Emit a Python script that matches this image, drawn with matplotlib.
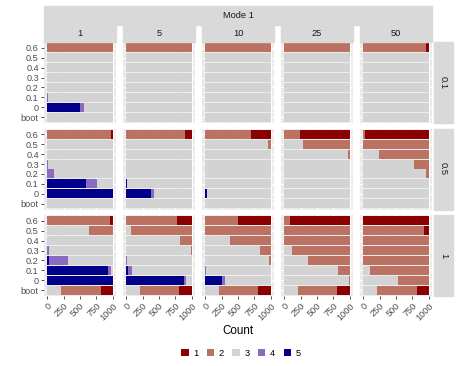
import matplotlib.pyplot as plt
from matplotlib.patches import Rectangle, Patch

plt.rcParams['font.family'] = ['Liberation Sans', 'DejaVu Sans']

# categories, top to bottom as shown
cats = ["0.6", "0.5", "0.4", "0.3", "0.2", "0.1", "0", "boot"]
col_labels = ["1", "5", "10", "25", "50"]
row_labels = ["0.1", "0.5", "1"]
levels = ["1", "2", "3", "4", "5"]
level_colors = ["#8B0000", "#BB7262", "#D3D3D3", "#8B6BBF", "#00008B"]

# counts per facet row: level -> [column][category]
r01_l1 = [[0]*8, [0]*8, [0]*8, [0]*8, [35, 0, 0, 0, 0, 0, 0, 0]]
r01_l2 = [[1000, 0, 0, 0, 0, 0, 0, 0], [1000, 0, 0, 0, 0, 0, 0, 0],
          [1000, 0, 0, 0, 0, 0, 0, 0], [1000, 0, 0, 0, 0, 0, 0, 0],
          [965, 0, 0, 0, 0, 0, 0, 0]]
r01_l3 = [[0, 1000, 1000, 1000, 1000, 985, 440, 1000],
          [0, 1000, 1000, 1000, 1000, 1000, 1000, 1000],
          [0, 1000, 1000, 1000, 1000, 1000, 1000, 1000],
          [0, 1000, 1000, 1000, 1000, 1000, 1000, 1000],
          [0, 1000, 1000, 1000, 1000, 1000, 1000, 1000]]
r01_l4 = [[0, 0, 0, 0, 0, 15, 55, 0], [0]*8, [0]*8, [0]*8, [0]*8]
r01_l5 = [[0, 0, 0, 0, 0, 0, 505, 0], [0]*8, [0]*8, [0]*8, [0]*8]

r05_l1 = [[20, 0, 0, 0, 0, 0, 0, 0], [110, 0, 0, 0, 0, 0, 0, 0],
          [295, 0, 0, 0, 0, 0, 0, 0], [755, 0, 0, 0, 0, 0, 0, 0],
          [970, 0, 0, 0, 0, 0, 0, 0]]
r05_l2 = [[980, 0, 0, 0, 0, 0, 0, 0], [890, 0, 0, 0, 0, 0, 0, 0],
          [705, 40, 0, 0, 0, 0, 0, 0], [245, 720, 30, 0, 0, 0, 0, 0],
          [30, 1000, 758, 232, 35, 0, 0, 0]]
r05_l3 = [[0, 1000, 1000, 995, 895, 240, 0, 1000],
          [0, 1000, 1000, 1000, 1000, 990, 580, 1000],
          [0, 960, 1000, 1000, 1000, 1000, 980, 1000],
          [0, 280, 970, 1000, 1000, 1000, 1000, 1000],
          [0, 0, 242, 768, 965, 1000, 1000, 1000]]
r05_l4 = [[0, 0, 0, 5, 105, 165, 0, 0], [0, 0, 0, 0, 0, 0, 40, 0],
          [0]*8, [0]*8, [0]*8]
r05_l5 = [[0, 0, 0, 0, 0, 595, 1000, 0], [0, 0, 0, 0, 0, 10, 380, 0],
          [0, 0, 0, 0, 0, 0, 20, 0], [0]*8, [0]*8]

r1_l1 = [[40, 0, 0, 0, 0, 0, 0, 185], [227, 0, 0, 0, 0, 0, 0, 187],
         [505, 0, 0, 0, 0, 0, 0, 190], [905, 0, 0, 0, 0, 0, 0, 190],
         [1000, 70, 0, 0, 0, 0, 0, 181]]
r1_l2 = [[960, 370, 0, 0, 0, 0, 0, 600], [773, 934, 177, 15, 0, 0, 0, 606],
         [495, 1000, 625, 170, 25, 0, 0, 600],
         [95, 1000, 1000, 885, 630, 180, 15, 600],
         [0, 930, 1000, 1000, 1000, 900, 475, 612]]
r1_l3 = [[0, 630, 1000, 970, 680, 20, 0, 215],
         [0, 66, 823, 985, 990, 909, 91, 207],
         [0, 0, 375, 830, 975, 995, 700, 210],
         [0, 0, 0, 115, 370, 820, 985, 210],
         [0, 0, 0, 0, 0, 100, 525, 207]]
r1_l4 = [[0, 0, 0, 30, 295, 55, 0, 0], [0, 0, 0, 0, 10, 66, 25, 0],
         [0, 0, 0, 0, 0, 5, 45, 0], [0]*8, [0]*8]
r1_l5 = [[0, 0, 0, 0, 25, 925, 1000, 0], [0, 0, 0, 0, 0, 25, 884, 0],
         [0, 0, 0, 0, 0, 0, 255, 0], [0]*8, [0]*8]

facet_rows = [
    [r01_l1, r01_l2, r01_l3, r01_l4, r01_l5],
    [r05_l1, r05_l2, r05_l3, r05_l4, r05_l5],
    [r1_l1, r1_l2, r1_l3, r1_l4, r1_l5],
]

W, H = 457, 366
fig = plt.figure(figsize=(W / 100, H / 100), dpi=100)

def fx(px):
    return px / W

def fy(py):
    return 1 - py / H

strip_bg = "#D9D9D9"
tick_col = "#4D4D4D"
col_left = [44 + 79 * j for j in range(5)]
pan_w = 72
row_top = [42, 128.5, 215]
pan_h = 81
ypos = [7 - k for k in range(len(cats))]

for i, data in enumerate(facet_rows):
    for j in range(5):
        ax = fig.add_axes([fx(col_left[j]), fy(row_top[i] + pan_h), fx(pan_w), pan_h / H])
        ax.set_facecolor("#EBEBEB")
        left = [0] * len(cats)
        # stacked from level 5 on the left to level 1 on the right
        for lv in range(4, -1, -1):
            vals = data[lv][j]
            ax.barh(ypos, vals, left=left, height=0.9, color=level_colors[lv], linewidth=0)
            left = [a + b for a, b in zip(left, vals)]
        ax.set_xlim(-50, 1050)
        ax.set_ylim(-0.6, 7.6)
        ax.set_axisbelow(True)
        ax.set_xticks([0, 250, 500, 750, 1000])
        ax.set_xticks([125, 375, 625, 875], minor=True)
        ax.set_yticks(ypos)
        ax.grid(True, which="major", color="white", linewidth=0.8)
        ax.grid(True, which="minor", axis="x", color="white", linewidth=0.4)
        for s in ax.spines.values():
            s.set_visible(False)
        ax.tick_params(which="minor", length=0)
        ax.tick_params(which="major", length=2.2, width=0.6, color="#333333",
                       labelsize=6.6, labelcolor=tick_col, pad=1.5)
        if j == 0:
            ax.set_yticklabels(cats)
        else:
            ax.tick_params(axis="y", length=0, labelleft=False)
        if i == 2:
            ax.set_xticklabels(["0", "250", "500", "750", "1000"], rotation=45,
                               ha="right", va="top", rotation_mode="anchor")
        else:
            ax.tick_params(axis="x", length=0, labelbottom=False)

# strips
fig.patches.append(Rectangle((fx(44), fy(25)), fx(432 - 44), 19 / H,
                             transform=fig.transFigure, color=strip_bg, zorder=0))
fig.text(fx(238), fy(15.5), "Mode 1", ha="center", va="center", fontsize=6.7, color="#1A1A1A")
for j, lab in enumerate(col_labels):
    fig.patches.append(Rectangle((fx(col_left[j]), fy(42)), fx(pan_w), 17.5 / H,
                                 transform=fig.transFigure, color=strip_bg, zorder=0))
    fig.text(fx(col_left[j] + pan_w / 2), fy(33.5), lab, ha="center", va="center",
             fontsize=6.7, color="#1A1A1A")
for i, lab in enumerate(row_labels):
    fig.patches.append(Rectangle((fx(434), fy(row_top[i] + pan_h)), fx(18.5), pan_h / H,
                                 transform=fig.transFigure, color=strip_bg, zorder=0))
    fig.text(fx(443.5), fy(row_top[i] + pan_h / 2), lab, ha="center", va="center",
             rotation=-90, fontsize=6.7, color="#1A1A1A")

fig.text(fx(238), fy(331), "Count", ha="center", va="center", fontsize=8.4)

handles = [Patch(facecolor=c, edgecolor="none") for c in level_colors]
fig.legend(handles, levels, loc="center", bbox_to_anchor=(fx(241), fy(353)), ncol=5,
           frameon=False, fontsize=6.7, handlelength=0.8, handleheight=0.8,
           handletextpad=0.5, columnspacing=0.9)

fig.savefig("out.png", dpi=100)
